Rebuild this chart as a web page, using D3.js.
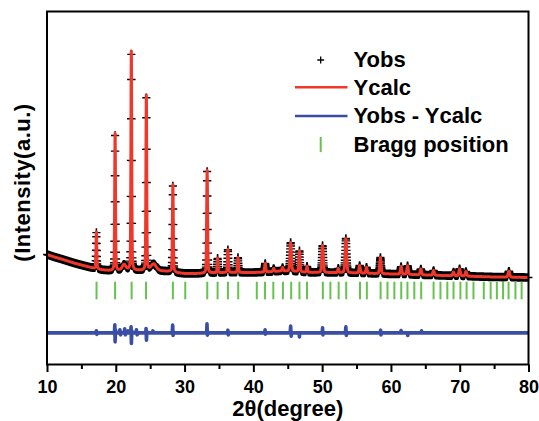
<!DOCTYPE html>
<html><head><meta charset="utf-8">
<script src="https://cdn.jsdelivr.net/npm/d3@7"></script>
<style>
body{margin:0;background:#fff}
text{font-family:"Liberation Sans",Arial,sans-serif;font-weight:bold;fill:#000}
</style>
</head><body>
<svg id="c" width="539" height="421"></svg>
<script>
// ---- data ----
const xTicks = [10, 20, 30, 40, 50, 60, 70, 80];
const xMinorTicks = [15, 25, 35, 45, 55, 65, 75];

// background knots (2theta, counts)
const bgAngles = [10, 11, 12, 13, 14, 15, 16, 17, 18, 19, 20, 22, 24, 26, 28, 29, 30, 32, 34, 36, 38, 40, 42, 44, 46, 48, 50, 55, 60, 65, 70, 75, 80];
const bgCounts = [3300, 3230, 3170, 3105, 3040, 2985, 2930, 2880, 2840, 2820, 2820, 2830, 2820, 2810, 2790, 2750, 2730, 2730, 2745, 2760, 2760, 2760, 2775, 2805, 2790, 2760, 2760, 2745, 2715, 2685, 2655, 2625, 2610];

// reflections seen in the pattern: position, height above background, FWHM
const peakAngles  = [17.18, 19.90, 21.2, 22.26, 24.44, 25.5, 28.30, 33.28, 34.80, 36.30, 37.76, 41.72, 42.95, 44.25, 45.42, 46.70, 47.80, 50.06, 52.35, 53.45, 55.45, 56.45, 58.47, 61.48, 62.42, 64.35, 66.20, 69.10, 69.98, 70.90, 77.15];
const peakHeights = [1100, 4110, 170, 6570, 5250, 200, 2610, 3085, 435, 690, 450, 260, 90, 105, 865, 630, 180, 810, 125, 1030, 225, 180, 485, 230, 260, 175, 140, 110, 215, 140, 180];
const peakWidths  = [0.14, 0.14, 0.6, 0.14, 0.14, 0.9, 0.15, 0.16, 0.16, 0.17, 0.17, 0.2, 0.2, 0.2, 0.24, 0.2, 0.2, 0.24, 0.2, 0.26, 0.22, 0.22, 0.24, 0.24, 0.24, 0.25, 0.25, 0.25, 0.25, 0.25, 0.28];

// Bragg positions
const braggAngles = [17.2, 19.9, 22.3, 24.4, 28.3, 30.1, 33.3, 34.8, 36.3, 37.8, 40.5, 41.7, 42.9, 44.3, 45.5, 46.7, 47.8, 50.1, 51.2, 52.4, 53.5, 55.5, 56.5, 58.5, 59.5, 60.5, 61.5, 62.4, 63.4, 64.4, 66.2, 67.2, 68.2, 69.1, 70.1, 71.0, 72.0, 73.5, 74.5, 75.4, 76.3, 77.1, 78.1, 79.0];

// difference curve Yobs - Ycalc (2theta, counts)
const residAngles = [10, 17.1, 17.18, 17.25, 17.35, 19.8, 19.86, 19.9, 19.96, 20.05, 20.5, 20.6, 20.7, 20.8, 21.2, 21.3, 21.4, 21.5, 21.7, 21.8, 21.9, 22.15, 22.22, 22.27, 22.33, 22.4, 22.9, 23.0, 23.1, 23.2, 24.35, 24.4, 24.46, 24.52, 24.6, 25.3, 25.4, 25.5, 28.2, 28.27, 28.33, 28.4, 33.2, 33.26, 33.32, 33.4, 36.25, 36.3, 36.35, 36.4, 41.65, 41.7, 41.75, 41.8, 45.35, 45.42, 45.5, 45.58, 46.65, 46.7, 46.75, 50.0, 50.06, 50.12, 50.2, 53.38, 53.45, 53.52, 53.6, 58.45, 58.5, 58.55, 58.6, 61.4, 61.48, 61.55, 62.4, 62.45, 62.5, 64.4, 64.45, 64.5, 80];
const residCounts = [0, 0, 60, -45, 0, 0, 240, -270, 90, 0, 0, 90, -60, 0, 0, 120, -60, 0, 0, 60, 0, 0, 180, -320, 60, 0, 0, 90, -60, 0, 0, 130, -220, 40, 0, 0, 60, 0, 0, 230, -80, 0, 0, 270, -70, 0, 0, 80, -60, 0, 0, 90, -40, 0, 0, 200, -100, 0, 0, -120, 0, 0, 150, -60, 0, 0, 180, -80, 0, 0, 80, -60, 0, 0, 70, 0, 0, -80, 0, 0, 60, 0, 0];

const legendLabels = ["Yobs", "Ycalc", "Yobs - Ycalc", "Bragg position"];
const stepObs = 0.02;   // measurement step (deg)
const residOffset = 950;
const braggLevel = 2220;

// ---- layout ----
const L = 47, R = 528.5, T = 11.5, B = 364.5;
const svg = d3.select("#c");
const x = d3.scaleLinear().domain([10, 80]).range([L, R]);
const y = d3.scaleLinear().domain([0, 10590]).range([B, T]);

const bg = d3.scaleLinear().domain(bgAngles).range(bgCounts);
const eta = 0.3, k = 4 * Math.log(2);
function ycalc(t) {
  let s = bg(t);
  for (let i = 0; i < peakAngles.length; i++) {
    const d = (t - peakAngles[i]) / peakWidths[i];
    const d2 = d * d;
    if (d2 > 4000) continue;
    s += peakHeights[i] * (eta / (1 + 4 * d2) + (1 - eta) * Math.exp(-k * d2));
  }
  return s;
}

const calcPts = [];
for (let t = 10; t <= 80.0001; t += 0.004) calcPts.push([t, ycalc(t)]);
const obsPts = [];
for (let t = 10.01; t <= 80; t += stepObs) obsPts.push([t, ycalc(t)]);

const g = svg.append("g");

// Yobs crosses
let p = "";
const cs = 4;
obsPts.forEach(d => {
  const px = x(d[0]), py = y(d[1]);
  p += `M${(px - cs).toFixed(2)},${py.toFixed(2)}h${2 * cs}M${px.toFixed(2)},${(py - cs - 0.3).toFixed(2)}v${2 * cs + 0.6}`;
});
g.append("path").attr("d", p).attr("stroke", "#000").attr("stroke-width", 1.4).attr("fill", "none");

// Ycalc
g.append("path").datum(calcPts)
  .attr("d", d3.line().x(d => x(d[0])).y(d => y(d[1])))
  .attr("fill", "none").attr("stroke", "#f0372b").attr("stroke-width", 3).attr("stroke-linejoin", "round");

// Bragg ticks
g.selectAll("line.bragg").data(braggAngles).join("line").attr("class", "bragg")
  .attr("x1", d => x(d)).attr("x2", d => x(d))
  .attr("y1", y(braggLevel) - 8.8).attr("y2", y(braggLevel) + 8.8)
  .attr("stroke", "#66c24f").attr("stroke-width", 2);

// difference curve
g.append("path").datum(residAngles.map((a, i) => [a, residCounts[i]]))
  .attr("d", d3.line().x(d => x(d[0])).y(d => y(residOffset + d[1])))
  .attr("fill", "none").attr("stroke", "#3b4ea6").attr("stroke-width", 3.6).attr("stroke-linejoin", "round");

// axes
const ax = svg.append("g").attr("transform", `translate(0,${B})`)
  .call(d3.axisBottom(x).tickValues(xTicks).tickSize(7.5).tickPadding(8).tickFormat(d3.format("d")));
ax.select(".domain").remove();
ax.selectAll("line").attr("stroke-width", 2);
ax.selectAll("text").attr("font-size", 18).style("font-family", '"Liberation Sans",Arial,sans-serif').style("font-weight", "bold");
const axm = svg.append("g").attr("transform", `translate(0,${B})`)
  .call(d3.axisBottom(x).tickValues(xMinorTicks).tickSize(4.5).tickFormat(""));
axm.select(".domain").remove();
axm.selectAll("line").attr("stroke-width", 2);

// frame
svg.append("rect").attr("x", L).attr("y", T).attr("width", R - L).attr("height", B - T)
  .attr("fill", "none").attr("stroke", "#000").attr("stroke-width", 2);

// axis titles
svg.append("text").attr("x", (L + R) / 2).attr("y", 416).attr("text-anchor", "middle")
  .attr("font-size", 22).text("2θ(degree)");
svg.append("text").attr("transform", "translate(29.5,182.5) rotate(-90)").attr("text-anchor", "middle")
  .attr("font-size", 22).attr("letter-spacing", 0.5).text("(Intensity(a.u.)");

// legend
const lx = 320.7, tx = 353.5, rows = [66.5, 95, 123.3, 151.5];
const lg = svg.append("g");
lg.append("path").attr("d", `M${lx - 3.4},60h6.8M${lx},56.6v6.8`).attr("stroke", "#000").attr("stroke-width", 1.3);
lg.append("line").attr("x1", 295).attr("x2", 347.5).attr("y1", 87.3).attr("y2", 87.3).attr("stroke", "#f0372b").attr("stroke-width", 2.6);
lg.append("line").attr("x1", 295).attr("x2", 347.5).attr("y1", 116).attr("y2", 116).attr("stroke", "#3b4ea6").attr("stroke-width", 2.6);
lg.append("line").attr("x1", lx).attr("x2", lx).attr("y1", 137).attr("y2", 152).attr("stroke", "#66c24f").attr("stroke-width", 2);
lg.selectAll("text").data(legendLabels).join("text")
  .attr("x", tx).attr("y", (d, i) => rows[i]).attr("font-size", 22).text(d => d);
</script>
</body></html>
